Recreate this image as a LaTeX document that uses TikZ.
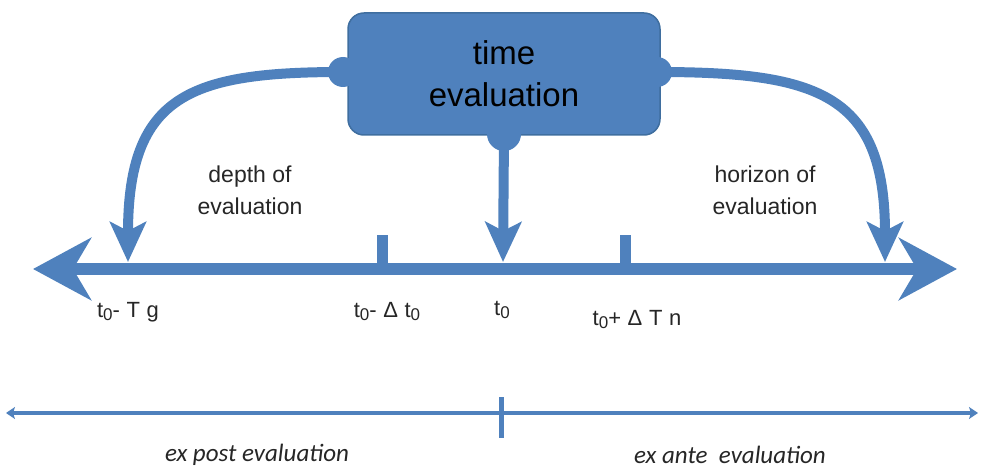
\documentclass[tikz,border=0pt]{standalone}
\usepackage{fontspec}
\setmainfont{Liberation Sans}
\newfontfamily\lsfont[LetterSpace=30]{Liberation Sans}
\newfontfamily\itfont{Carlito}
\usetikzlibrary{arrows.meta}
\definecolor{oblue}{HTML}{4F81BD}
\definecolor{oborder}{HTML}{3F6E9F}
\tikzset{
  evalbox/.style={draw=oborder, line width=1.5pt, fill=oblue, rounded corners=16pt,
    minimum width=312pt, minimum height=122pt, align=center, inner sep=0pt,
    font=\fontsize{33}{42}\selectfont, text=black},
  dot/.style={fill=oblue},
  bentarrow/.style={draw=oblue, line width=10pt,
    -{Stealth[length=40pt, width=36pt, inset=9pt]}},
  mainaxis/.style={draw=oblue, line width=12pt,
    {Stealth[length=58pt, width=62pt, inset=18pt]}-{Stealth[length=58pt, width=62pt, inset=18pt]}},
  tickmark/.style={draw=oblue, line width=11pt},
  thinaxis/.style={draw=oblue, line width=4pt,
    {Stealth[length=9pt, width=12pt, inset=2pt]}-{Stealth[length=9pt, width=12pt, inset=2pt]}},
  lbl/.style={font=\fontsize{23}{32}\selectfont, align=center, text=black!85},
  axlbl/.style={font=\lsfont\fontsize{22}{26}\selectfont, text=black!85, inner sep=0pt},
  itlbl/.style={font=\itfont\itshape\fontsize{25}{28}\selectfont, text=black!85, inner sep=0pt},
}
\newcommand{\sub}{\raisebox{-3pt}{\fontsize{17}{20}\selectfont 0}}
\begin{document}
\begin{tikzpicture}[x=1pt,y=-1pt]
\useasboundingbox (0,0) rectangle (983,468);
% main box
\node[evalbox] (box) at (504,74) {time\\evaluation};
\coordinate (lc) at (343,72);
\coordinate (rc) at (657,72);
\coordinate (bc) at (504,134);
\fill[dot] (lc) circle (15pt);
\fill[dot] (rc) circle (15pt);
\fill[dot] (bc) circle (17pt);
% axis
\coordinate (axL) at (33,269);
\coordinate (axR) at (957,269);
\coordinate (tA) at (382,235);
\coordinate (tAb) at (382,269);
\coordinate (tB) at (625,235);
\coordinate (tBb) at (625,269);
\draw[tickmark] (tA) -- (tAb);
\draw[tickmark] (tB) -- (tBb);
\draw[mainaxis] (axL) -- (axR);
% arrows from box
\coordinate (lt) at (128,262);
\coordinate (rt) at (885,262);
\coordinate (ct) at (503,262);
\draw[bentarrow] (lc) .. controls (190,72) and (128,95) .. (lt);
\draw[bentarrow] (rc) .. controls (820,72) and (885,95) .. (rt);
\draw[bentarrow] (bc) -- (ct);
% labels
\node[lbl] (depth) at (250,190) {depth of\\evaluation};
\node[lbl] (horizon) at (765,190) {horizon of\\evaluation};
\node[axlbl] (l1) at (128,312) {t\sub-Tg};
\node[axlbl] (l2) at (387,312) {t\sub-Δt\sub};
\node[axlbl] (l3) at (502,310) {t\sub};
\node[axlbl] (l4) at (637,320) {t\sub+ΔTn};
% bottom axis
\coordinate (bL) at (6,413);
\coordinate (bR) at (978,413);
\coordinate (bt1) at (501,397);
\coordinate (bt2) at (501,438);
\draw[thinaxis] (bL) -- (bR);
\draw[draw=oblue, line width=5pt] (bt1) -- (bt2);
\node[itlbl] (expost) at (257,455) {ex post evaluation};
\node[itlbl] (exante) at (730,455) {ex ante\ \ evaluation};
\end{tikzpicture}
\end{document}
